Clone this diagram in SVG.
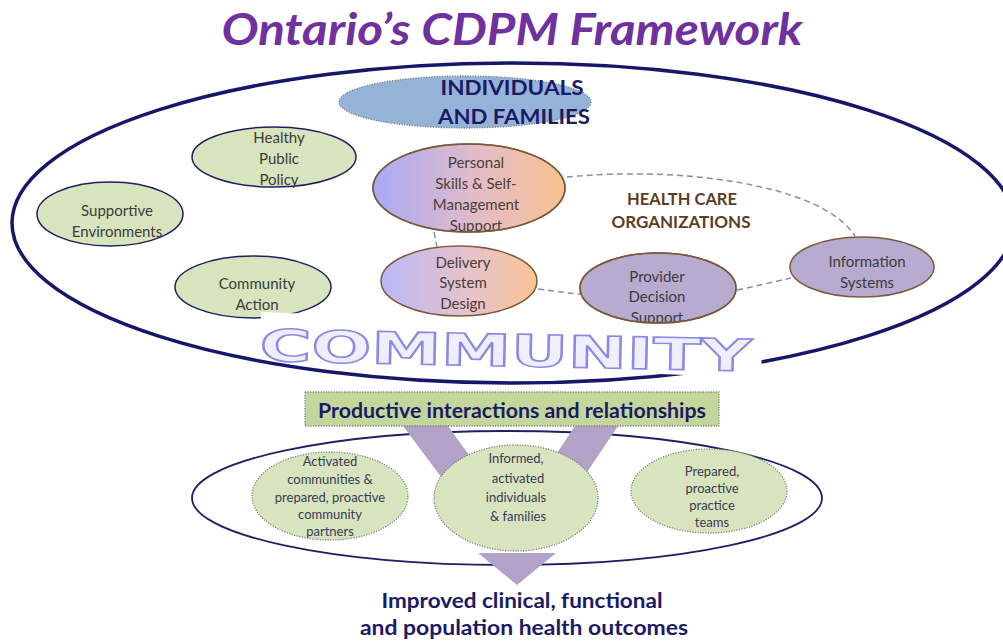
<svg xmlns="http://www.w3.org/2000/svg" width="1003" height="641" viewBox="0 0 1003 641">
<defs>
<style>
.t{font-family:Lato,"Open Sans","Liberation Sans",sans-serif;text-anchor:middle}
.n{font-size:15px;fill:#3c3c3c}
.s{font-size:13px;fill:#3a3a58}
.b{font-weight:bold;fill:#1a1a66}
.g{fill:#d7e4bd;stroke:#1f1f5f;stroke-width:1.5}
.o{stroke:#7a5a3a;stroke-width:1.5}
.d{fill:#d7e4bd;stroke:#808080;stroke-width:1.3;stroke-dasharray:1.2 1.4}
.c{fill:none;stroke:#8090a8;stroke-width:1.5;stroke-dasharray:6 4}
.a{fill:#b3a2c7}
</style>
<linearGradient id="gp" x1="0" y1="0" x2="1" y2="0">
<stop offset="0" stop-color="#a9a9f7"/><stop offset="0.55" stop-color="#e3bcc8"/><stop offset="1" stop-color="#fac28f"/>
</linearGradient>
<linearGradient id="gd" x1="0" y1="0" x2="1" y2="0">
<stop offset="0" stop-color="#b8b8f8"/><stop offset="0.55" stop-color="#e6c2cc"/><stop offset="1" stop-color="#f9c496"/>
</linearGradient>
<clipPath id="cp"><ellipse cx="469" cy="188" rx="96" ry="44"/></clipPath>
<clipPath id="cv"><ellipse cx="658" cy="288" rx="78" ry="35"/></clipPath>
</defs>
<rect width="1003" height="641" fill="#ffffff"/>

<text id="title" class="t" x="512" y="45" font-size="44" font-weight="bold" font-style="italic" fill="#7030a0" textLength="581" lengthAdjust="spacingAndGlyphs">Ontario’s CDPM Framework</text>

<g id="community-boundary">
<ellipse cx="513" cy="223" rx="501" ry="160" fill="none" stroke="#16166a" stroke-width="3.5"/>
</g>

<g id="individuals-families">
<ellipse cx="465" cy="102" rx="126" ry="26" fill="#95b3d7" stroke="#7f7f7f" stroke-width="1.3" stroke-dasharray="1.2 1.4"/>
<text class="t b" x="512" y="95" font-size="21" textLength="143" lengthAdjust="spacingAndGlyphs">INDIVIDUALS</text>
<text class="t b" x="514" y="124" font-size="21" textLength="152" lengthAdjust="spacingAndGlyphs">AND FAMILIES</text>
</g>

<g id="connectors">
<path class="c" d="M567,177 C680,166 822,184 855,236"/>
<path class="c" d="M434,232 L437,247"/>
<path class="c" d="M538,289 C555,291 565,293 580,294"/>
<path class="c" d="M737,290 C757,286 773,282 791,278"/>
</g>

<g id="healthy-public-policy">
<ellipse class="g" cx="274" cy="157" rx="82" ry="30"/>
<text class="t n" x="279" y="143">Healthy</text>
<text class="t n" x="279" y="164">Public</text>
<text class="t n" x="279" y="185">Policy</text>
</g>

<g id="supportive-environments">
<ellipse class="g" cx="110" cy="214" rx="73" ry="32"/>
<text class="t n" x="117" y="216">Supportive</text>
<text class="t n" x="117" y="237">Environments</text>
</g>

<g id="community-action">
<ellipse class="g" cx="253" cy="287" rx="78" ry="31"/>
<text class="t n" x="257" y="289">Community</text>
<text class="t n" x="257" y="310">Action</text>
</g>

<g id="personal-skills">
<ellipse class="o" cx="469" cy="188" rx="96" ry="44" fill="url(#gp)"/>
<g clip-path="url(#cp)" fill="#4a3a30">
<text class="t n" x="476" y="168" style="fill:#4a4036">Personal</text>
<text class="t n" x="476" y="189" style="fill:#4a4036">Skills &amp; Self-</text>
<text class="t n" x="476" y="210" style="fill:#4a4036">Management</text>
<text class="t n" x="476" y="231" style="fill:#4a4036">Support</text>
</g>
<ellipse cx="469" cy="188" rx="96" ry="44" fill="none" stroke="#7a5a3a" stroke-width="1.5"/>
</g>

<g id="delivery-system-design">
<ellipse class="o" cx="459" cy="281" rx="78" ry="35" fill="url(#gd)"/>
<text class="t n" x="463" y="268" style="fill:#4a4036">Delivery</text>
<text class="t n" x="463" y="288" style="fill:#4a4036">System</text>
<text class="t n" x="463" y="309" style="fill:#4a4036">Design</text>
</g>

<g id="provider-decision-support">
<ellipse class="o" cx="658" cy="288" rx="78" ry="35" fill="#b7abd0"/>
<g clip-path="url(#cv)">
<text class="t n" x="657" y="282">Provider</text>
<text class="t n" x="657" y="302">Decision</text>
<text class="t n" x="657" y="323">Support</text>
</g>
<ellipse cx="658" cy="288" rx="78" ry="35" fill="none" stroke="#7a5a3a" stroke-width="1.5"/>
</g>

<g id="information-systems">
<ellipse class="o" cx="862" cy="267" rx="72" ry="30" fill="#b7abd0"/>
<text class="t n" x="867" y="267">Information</text>
<text class="t n" x="867" y="288">Systems</text>
</g>

<g id="health-care-organizations">
<text class="t" x="682" y="205" font-size="17" font-weight="bold" fill="#5c3d1e" textLength="110" lengthAdjust="spacingAndGlyphs">HEALTH CARE</text>
<text class="t" x="681" y="228" font-size="17" font-weight="bold" fill="#5c3d1e" textLength="139" lengthAdjust="spacingAndGlyphs">ORGANIZATIONS</text>
</g>

<g id="community-label">
<rect x="260" y="322" width="502" height="46" fill="#ffffff" transform="rotate(2.3 511 344.5)"/>
<text x="506" y="366" font-family="'DejaVu Sans',Verdana,sans-serif" font-weight="bold" font-size="44" text-anchor="middle" fill="#eeeefc" stroke="#8a8ae6" stroke-width="1.6" textLength="492" lengthAdjust="spacingAndGlyphs" transform="rotate(1.2 506 345)">COMMUNITY</text>
</g>

<g id="outcomes-boundary">
<ellipse cx="507" cy="498" rx="315" ry="67" fill="none" stroke="#1f1f66" stroke-width="1.8"/>
</g>

<g id="flow-arrow">
<polygon class="a" points="403,426 448,426 505,505 462,505"/>
<polygon class="a" points="575,426 618,426 565,505 522,505"/>
</g>

<g id="productive-interactions">
<rect x="305" y="392" width="414" height="34" fill="#c3d69b" stroke="#7f7f7f" stroke-width="1.3" stroke-dasharray="1.2 1.4"/>
<text class="t b" x="512" y="418" font-size="20" textLength="388" lengthAdjust="spacingAndGlyphs">Productive interactions and relationships</text>
</g>

<g id="activated-communities">
<ellipse class="d" cx="330" cy="496" rx="78" ry="44"/>
<text class="t s" x="330" y="466">Activated</text>
<text class="t s" x="330" y="484">communities &amp;</text>
<text class="t s" x="330" y="502">prepared, proactive</text>
<text class="t s" x="330" y="519">community</text>
<text class="t s" x="330" y="536">partners</text>
</g>

<g id="informed-individuals">
<ellipse class="d" cx="516" cy="498" rx="82" ry="53"/>
<text class="t s" x="516" y="463" font-size="14">Informed,</text>
<text class="t s" x="518" y="483" font-size="14">activated</text>
<text class="t s" x="516" y="502" font-size="14">individuals</text>
<text class="t s" x="518" y="521" font-size="14">&amp; families</text>
</g>

<g id="prepared-teams">
<ellipse class="d" cx="709" cy="491" rx="78" ry="42"/>
<text class="t s" x="712" y="476">Prepared,</text>
<text class="t s" x="712" y="493">proactive</text>
<text class="t s" x="712" y="510">practice</text>
<text class="t s" x="712" y="527">teams</text>
</g>

<g id="arrowhead">
<polygon class="a" points="478,553 556,553 517,585"/>
</g>

<g id="health-outcomes">
<text class="t b" x="522" y="608" font-size="21" textLength="281" lengthAdjust="spacingAndGlyphs">Improved clinical, functional</text>
<text class="t b" x="524" y="635" font-size="21" textLength="328" lengthAdjust="spacingAndGlyphs">and population health outcomes</text>
</g>
</svg>
